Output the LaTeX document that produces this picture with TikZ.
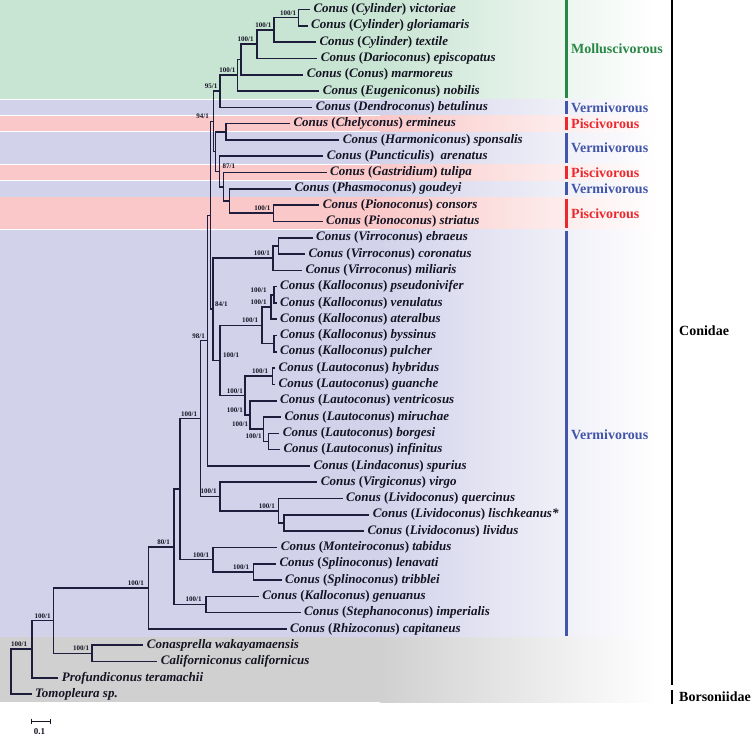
\documentclass[tikz,border=0pt]{standalone}
\usepackage{fontspec}
\setmainfont{Liberation Serif}
\definecolor{bgreen}{RGB}{200,228,210}
\definecolor{bblue}{RGB}{210,210,235}
\definecolor{bred}{RGB}{250,200,200}
\definecolor{bgray}{RGB}{208,208,208}
\definecolor{cgreen}{RGB}{40,135,70}
\definecolor{cblue}{RGB}{65,85,170}
\definecolor{cred}{RGB}{235,40,45}
\definecolor{treecol}{RGB}{30,30,60}
\definecolor{leafcol}{RGB}{20,20,35}
\newcommand\cn[2]{Conus {\upshape(}#1{\upshape)} #2}
\begin{document}
\begin{tikzpicture}[x=1pt,y=-1pt,
  br/.style={draw=treecol, line width=1.6pt},
  leaf/.style={anchor=west, inner sep=0pt, xshift=3.5pt, text=leafcol, font=\fontsize{13}{15}\selectfont\bfseries\itshape},
  supl/.style={anchor=base east, inner sep=0pt, text=leafcol, font=\fontsize{7}{8}\selectfont\bfseries},
  supr/.style={anchor=base west, inner sep=0pt, text=leafcol, font=\fontsize{7}{8}\selectfont\bfseries},
  cat/.style={anchor=west, inner sep=0pt, font=\fontsize{14}{16}\selectfont\bfseries},
  catbar/.style={line width=3pt},
  fam/.style={anchor=west, inner sep=0pt, font=\fontsize{14}{16}\selectfont\bfseries}]
\useasboundingbox (0,0) rectangle (756,740);
\fill[white] (0,0) rectangle (756,740);
% background bands
\foreach \c/\a/\b in {bgreen/0/98.75, bblue/99.55/115.05, bred/115.85/131.35, bblue/132.15/163.95, bred/164.75/180.25, bblue/181.05/196.55, bred/197.35/229.15, bblue/229.95/636.65, bgray/637.45/702.25}{
  \fill[\c] (0,\a) rectangle (381,\b);
  \shade[left color=\c, right color=white] (380,\a) rectangle (658,\b);
}
% leaf tips
\coordinate (t1) at (309.8,9.5);
\coordinate (t2) at (307.5,25.8);
\coordinate (t3) at (315.8,42.1);
\coordinate (t4) at (317.2,58.4);
\coordinate (t5) at (303.2,74.7);
\coordinate (t6) at (319.2,91.0);
\coordinate (t7) at (312.2,107.3);
\coordinate (t8) at (289.8,123.6);
\coordinate (t9) at (339.2,139.9);
\coordinate (t10) at (323.2,156.2);
\coordinate (t11) at (326.5,172.5);
\coordinate (t12) at (290.8,188.8);
\coordinate (t13) at (319.2,205.1);
\coordinate (t14) at (322.5,221.4);
\coordinate (t15) at (312.5,237.7);
\coordinate (t16) at (304.8,254.0);
\coordinate (t17) at (301.8,270.3);
\coordinate (t18) at (276.5,286.6);
\coordinate (t19) at (276.5,302.9);
\coordinate (t20) at (276.5,319.2);
\coordinate (t21) at (276.5,335.5);
\coordinate (t22) at (276.5,351.8);
\coordinate (t23) at (275,368.1);
\coordinate (t24) at (275,384.4);
\coordinate (t25) at (276.5,400.7);
\coordinate (t26) at (280.8,417.0);
\coordinate (t27) at (279.2,433.3);
\coordinate (t28) at (279.8,449.6);
\coordinate (t29) at (309.8,465.9);
\coordinate (t30) at (317.2,482.2);
\coordinate (t31) at (342.5,498.5);
\coordinate (t32) at (369.2,514.8);
\coordinate (t33) at (363.8,531.1);
\coordinate (t34) at (277.2,547.4);
\coordinate (t35) at (275.8,563.7);
\coordinate (t36) at (281.5,580.0);
\coordinate (t37) at (258.7,596.3);
\coordinate (t38) at (300.5,612.6);
\coordinate (t39) at (286.5,628.9);
\coordinate (t40) at (143.2,645.2);
\coordinate (t41) at (157.2,661.5);
\coordinate (t42) at (58.2,677.8);
\coordinate (t43) at (31.5,694.1);
% internal nodes
\coordinate (N1) at (298.3,17.65);
\coordinate (N2) at (274,29.875);
\coordinate (N3) at (256.7,44.14);
\coordinate (N4) at (240.7,59.42);
\coordinate (N5) at (237.3,75.21);
\coordinate (N6) at (220,91.255);
\coordinate (Pi) at (273.3,213.25);
\coordinate (G) at (229.3,201.025);
\coordinate (T) at (223.3,186.76);
\coordinate (A) at (219.3,171.48);
\coordinate (C) at (226,131.75);
\coordinate (B) at (215.3,151.615);
\coordinate (D) at (213.3,121.435);
\coordinate (EC) at (278.3,245.85);
\coordinate (V) at (272.7,258.075);
\coordinate (P1) at (274,294.75);
\coordinate (P2) at (271,306.975);
\coordinate (BP) at (274,343.65);
\coordinate (P3) at (261.7,325.31);
\coordinate (H) at (272.5,376.25);
\coordinate (L4) at (268.3,441.45);
\coordinate (L3) at (263.3,429.225);
\coordinate (L2) at (250,414.96);
\coordinate (L) at (245,395.61);
\coordinate (KL) at (220,360.46);
\coordinate (K) at (212.7,309.27);
\coordinate (E) at (210.3,215.35);
\coordinate (F) at (207.5,340.63);
\coordinate (LL) at (284,522.95);
\coordinate (LQ) at (278.3,510.725);
\coordinate (VG) at (220,496.46);
\coordinate (M) at (200.5,418.54);
\coordinate (SP) at (253.3,571.85);
\coordinate (MS) at (212.7,559.625);
\coordinate (R) at (180,489.08);
\coordinate (KS) at (206,604.45);
\coordinate (S) at (174,546.77);
\coordinate (Q) at (148.3,587.83);
\coordinate (CC) at (91.7,653.35);
\coordinate (W) at (53.3,620.59);
\coordinate (X) at (31.7,649.2);
\coordinate (Y) at (10.7,671.65);
% branches
\foreach \p/\c in {N1/t1,N1/t2,N2/N1,N2/t3,N3/N2,N3/t4,N4/N3,N4/t5,N5/N4,N5/t6,N6/N5,N6/t7,
  D/N6,D/B,B/C,B/A,C/t8,C/t9,A/t10,A/T,T/t11,T/G,G/t12,G/Pi,Pi/t13,Pi/t14,
  E/D,E/K,K/V,K/KL,V/EC,V/t17,EC/t15,EC/t16,KL/P3,KL/L,P3/P2,P3/BP,P2/P1,P2/t20,P1/t18,P1/t19,BP/t21,BP/t22,
  L/H,L/L2,H/t23,H/t24,L2/t25,L2/L3,L3/t26,L3/L4,L4/t27,L4/t28,
  F/E,F/t29,M/F,M/VG,VG/t30,VG/LQ,LQ/t31,LQ/LL,LL/t32,LL/t33,
  R/M,R/MS,MS/t34,MS/SP,SP/t35,SP/t36,S/R,S/KS,KS/t37,KS/t38,Q/S,Q/t39,
  W/Q,W/CC,CC/t40,CC/t41,X/W,X/t42,Y/X,Y/t43}
  \draw[br] (\p) |- (\c);
% leaf labels
\node[leaf] (l1) at (t1) {\cn{Cylinder}{victoriae}};
\node[leaf] (l2) at (t2) {\cn{Cylinder}{gloriamaris}};
\node[leaf] (l3) at (t3) {\cn{Cylinder}{textile}};
\node[leaf] (l4) at (t4) {\cn{Darioconus}{episcopatus}};
\node[leaf] (l5) at (t5) {\cn{Conus}{marmoreus}};
\node[leaf] (l6) at (t6) {\cn{Eugeniconus}{nobilis}};
\node[leaf] (l7) at (t7) {\cn{Dendroconus}{betulinus}};
\node[leaf] (l8) at (t8) {\cn{Chelyconus}{ermineus}};
\node[leaf] (l9) at (t9) {\cn{Harmoniconus}{sponsalis}};
\node[leaf] (l10) at (t10) {\cn{Puncticulis}{\ arenatus}};
\node[leaf] (l11) at (t11) {\cn{Gastridium}{tulipa}};
\node[leaf] (l12) at (t12) {\cn{Phasmoconus}{goudeyi}};
\node[leaf] (l13) at (t13) {\cn{Pionoconus}{consors}};
\node[leaf] (l14) at (t14) {\cn{Pionoconus}{striatus}};
\node[leaf] (l15) at (t15) {\cn{Virroconus}{ebraeus}};
\node[leaf] (l16) at (t16) {\cn{Virroconus}{coronatus}};
\node[leaf] (l17) at (t17) {\cn{Virroconus}{miliaris}};
\node[leaf] (l18) at (t18) {\cn{Kalloconus}{pseudonivifer}};
\node[leaf] (l19) at (t19) {\cn{Kalloconus}{venulatus}};
\node[leaf] (l20) at (t20) {\cn{Kalloconus}{ateralbus}};
\node[leaf] (l21) at (t21) {\cn{Kalloconus}{byssinus}};
\node[leaf] (l22) at (t22) {\cn{Kalloconus}{pulcher}};
\node[leaf] (l23) at (t23) {\cn{Lautoconus}{hybridus}};
\node[leaf] (l24) at (t24) {\cn{Lautoconus}{guanche}};
\node[leaf] (l25) at (t25) {\cn{Lautoconus}{ventricosus}};
\node[leaf] (l26) at (t26) {\cn{Lautoconus}{miruchae}};
\node[leaf] (l27) at (t27) {\cn{Lautoconus}{borgesi}};
\node[leaf] (l28) at (t28) {\cn{Lautoconus}{infinitus}};
\node[leaf] (l29) at (t29) {\cn{Lindaconus}{spurius}};
\node[leaf] (l30) at (t30) {\cn{Virgiconus}{virgo}};
\node[leaf] (l31) at (t31) {\cn{Lividoconus}{quercinus}};
\node[leaf] (l32) at (t32) {\cn{Lividoconus}{lischkeanus*}};
\node[leaf] (l33) at (t33) {\cn{Lividoconus}{lividus}};
\node[leaf] (l34) at (t34) {\cn{Monteiroconus}{tabidus}};
\node[leaf] (l35) at (t35) {\cn{Splinoconus}{lenavati}};
\node[leaf] (l36) at (t36) {\cn{Splinoconus}{tribblei}};
\node[leaf] (l37) at (t37) {\cn{Kalloconus}{genuanus}};
\node[leaf] (l38) at (t38) {\cn{Stephanoconus}{imperialis}};
\node[leaf] (l39) at (t39) {\cn{Rhizoconus}{capitaneus}};
\node[leaf] (l40) at (t40) {Conasprella wakayamaensis};
\node[leaf] (l41) at (t41) {Californiconus californicus};
\node[leaf] (l42) at (t42) {Profundiconus teramachii};
\node[leaf] (l43) at (t43) {Tomopleura sp.};
% support values
\foreach \n/\dx/\s in {N1/-2/100\slash1, N2/-2.5/100\slash1, N3/-2.9/100\slash1, N5/-1.8/100\slash1,
  N6/-2.5/95\slash1, D/-4.3/94\slash1, Pi/-2.8/100\slash1, V/-2.7/100\slash1,
  P1/-7.3/100\slash1, P2/-4.3/100\slash1, P3/-3.4/100\slash1, F/-2.5/98\slash1,
  H/-4.2/100\slash1, L/-2/100\slash1, L2/-7/100\slash1, L3/-15/100\slash1, L4/-6.6/100\slash1,
  M/-3.2/100\slash1, VG/-3.3/100\slash1, LQ/-3.3/100\slash1, S/-4/80\slash1, MS/-3.4/100\slash1,
  SP/-4/100\slash1, KS/-4.3/100\slash1, Q/-4.3/100\slash1, W/-2.6/100\slash1, CC/-2.4/100\slash1, X/-4.4/100\slash1}
  \path (\n) ++(\dx,-2.5) node[supl] (s\n) {\s};
\foreach \n/\dx/\s in {A/3.2/87\slash1, K/2.3/84\slash1, KL/3/100\slash1}
  \path (\n) ++(\dx,-2.5) node[supr] (s\n) {\s};
% diet categories
\draw[catbar,cgreen] (566,0) -- (566,97.5);
\draw[catbar,cblue] (566,100.5) -- (566,113.5);
\draw[catbar,cred] (566,116.5) -- (566,129.5);
\draw[catbar,cblue] (566,133) -- (566,162.5);
\draw[catbar,cred] (566,166) -- (566,178.5);
\draw[catbar,cblue] (566,182) -- (566,195);
\draw[catbar,cred] (566,198.5) -- (566,227.5);
\draw[catbar,cblue] (566,231) -- (566,636);
\node[cat,text=cgreen] (c1) at (571,49) {Molluscivorous};
\node[cat,text=cblue] (c2) at (571,107.3) {Vermivorous};
\node[cat,text=cred] (c3) at (571,123.6) {Piscivorous};
\node[cat,text=cblue] (c4) at (571,148) {Vermivorous};
\node[cat,text=cred] (c5) at (571,172.5) {Piscivorous};
\node[cat,text=cblue] (c6) at (571,188.8) {Vermivorous};
\node[cat,text=cred] (c7) at (571,213.3) {Piscivorous};
\node[cat,text=cblue] (c8) at (571,435) {Vermivorous};
% families
\draw[line width=2.8pt] (672,0) -- (672,685);
\draw[line width=2.8pt] (672,690) -- (672,704);
\node[fam] (conidae) at (679,331) {Conidae};
\node[fam] (borso) at (679,697) {Borsoniidae};
% scale bar
\draw[line width=1pt,leafcol] (31,721) -- (50,721);
\draw[line width=0.8pt,leafcol] (31,718.5) -- (31,723.5) (50,718.5) -- (50,723.5);
\node[inner sep=0pt,text=leafcol,font=\fontsize{9}{10}\selectfont\bfseries] (scl) at (39.5,731.5) {0.1};
\end{tikzpicture}
\end{document}
